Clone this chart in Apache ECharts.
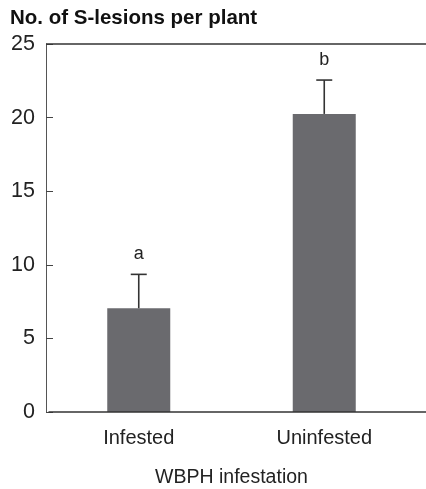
<!DOCTYPE html>
<html>
<head>
<meta charset="utf-8">
<style>
  html, body { margin: 0; padding: 0; background: #fff; }
  #chart { width: 426px; height: 489px; }
</style>
<script src="https://cdn.jsdelivr.net/npm/echarts@6/dist/echarts.min.js"></script>
</head>
<body>
<div id="chart"></div>
<script>
// Lesion counts per plant under WBPH infestation
const categories = ['Infested', 'Uninfested'];
const meanLesions = [7.05, 20.25];
const upperError = [9.35, 22.55];
const groupLetters = ['a', 'b'];
const yTicks = { min: 0, max: 25, interval: 5 };

const FONT = '"Liberation Sans", Arial, sans-serif';
const TEXT = '#222';

const chart = echarts.init(document.getElementById('chart'));

const errorData = categories.map((c, i) => [i, meanLesions[i], upperError[i], groupLetters[i]]);

chart.setOption({
  animation: false,
  textStyle: { fontFamily: FONT },
  title: {
    text: 'No. of S-lesions per plant',
    left: 5,
    top: 3,
    textStyle: { fontFamily: FONT, fontSize: 20.5, fontWeight: 'bold', color: '#111' }
  },
  grid: { left: 46, right: 9, top: 44, bottom: 77, outerBoundsMode: 'none', containLabel: false },
  xAxis: {
    type: 'category',
    data: categories,
    axisLine: { show: false },
    axisTick: { show: false },
    axisLabel: { fontSize: 20, color: TEXT, margin: 16, fontFamily: FONT },
    name: 'WBPH infestation',
    nameLocation: 'middle',
    nameGap: 56,
    nameTextStyle: { fontSize: 19.5, color: TEXT, fontFamily: FONT }
  },
  yAxis: {
    type: 'value',
    min: yTicks.min,
    max: yTicks.max,
    interval: yTicks.interval,
    axisLine: { show: true, lineStyle: { color: '#555', width: 1 } },
    axisTick: { show: true, inside: true, length: 7, lineStyle: { color: '#444', width: 1 } },
    axisLabel: { fontSize: 21.5, color: TEXT, margin: 11, fontFamily: FONT },
    splitLine: { show: false }
  },
  series: [
    {
      type: 'bar',
      data: meanLesions,
      barWidth: 63,
      itemStyle: { color: '#6a6a6e' },
      z: 2
    },
    {
      type: 'custom',
      data: errorData,
      z: 3,
      renderItem: function (params, api) {
        const x = api.value(0);
        const base = api.coord([x, api.value(1)]);
        const top = api.coord([x, api.value(2)]);
        const half = 8;
        const style = { stroke: '#333', lineWidth: 1.6 };
        return {
          type: 'group',
          children: [
            { type: 'line', shape: { x1: base[0], y1: base[1], x2: top[0], y2: top[1] }, style: style },
            { type: 'line', shape: { x1: top[0] - half, y1: top[1], x2: top[0] + half, y2: top[1] }, style: style },
            {
              type: 'text',
              style: {
                text: api.value(3),
                x: top[0],
                y: top[1] - 20,
                align: 'center',
                verticalAlign: 'middle',
                fontSize: 18,
                fontFamily: FONT,
                fill: TEXT
              }
            }
          ]
        };
      }
    }
  ]
});

// Frame lines along the 0 and 25 levels, running out to the right edge
const y0 = chart.convertToPixel({ yAxisIndex: 0 }, yTicks.min);
const yTop = chart.convertToPixel({ yAxisIndex: 0 }, yTicks.max);
const width = chart.getWidth();
chart.setOption({
  graphic: [
    { type: 'line', shape: { x1: 48.5, y1: y0, x2: width, y2: y0 }, style: { stroke: '#333', lineWidth: 1.5 }, z: 10 },
    { type: 'line', shape: { x1: 46, y1: yTop, x2: width, y2: yTop }, style: { stroke: '#333', lineWidth: 1.5 }, z: 10 }
  ]
});
</script>
</body>
</html>
